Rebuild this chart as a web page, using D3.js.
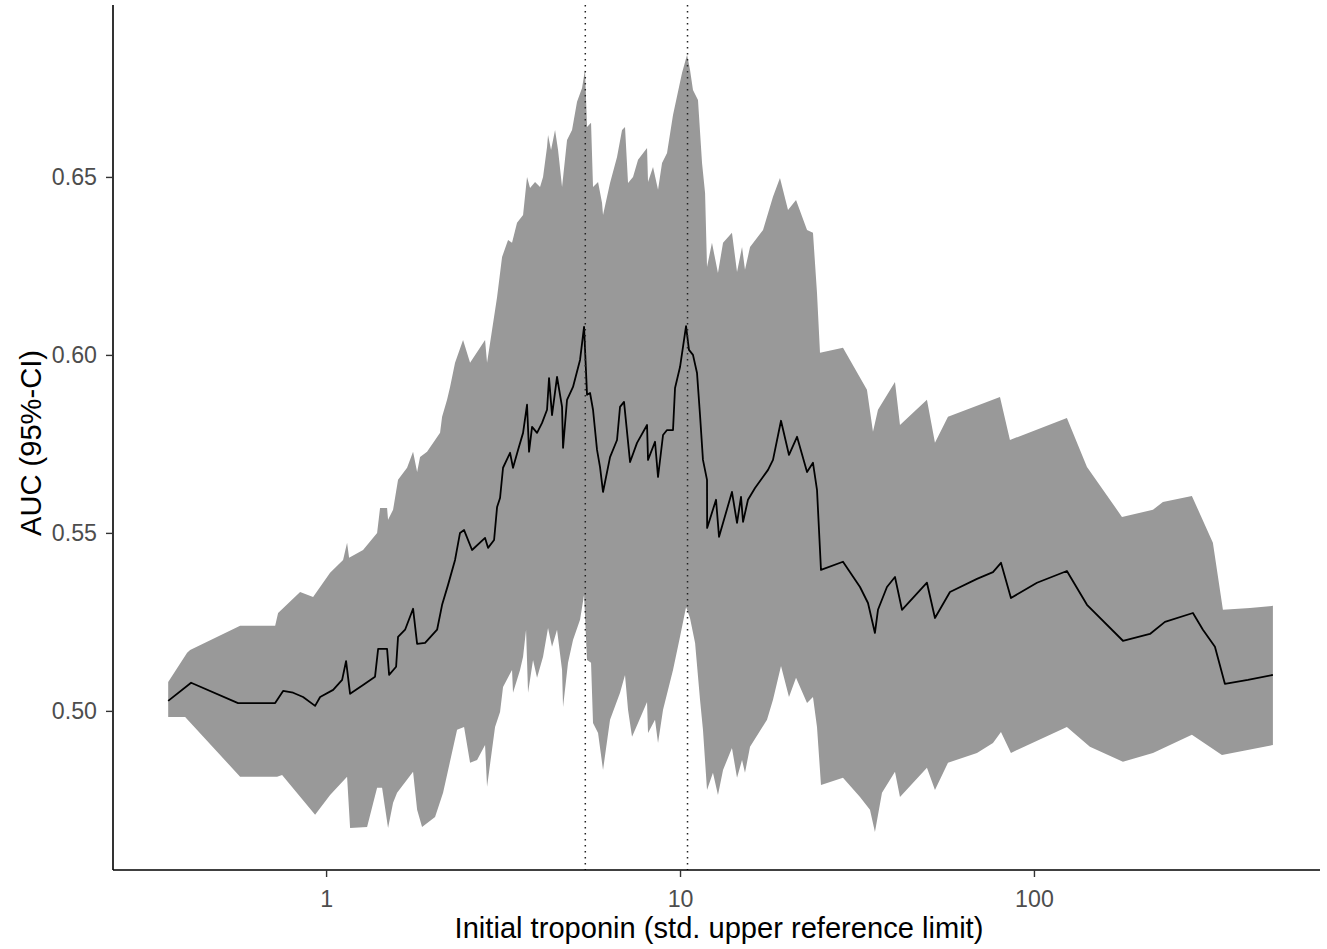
<!DOCTYPE html>
<html>
<head>
<meta charset="utf-8">
<script src="https://cdn.jsdelivr.net/npm/d3@7"></script>
<style>
  html, body { margin: 0; padding: 0; background: #fff; }
  svg { display: block; }
  text { font-family: "Liberation Sans", Arial, Helvetica, sans-serif; }
</style>
</head>
<body>
<svg id="chart" width="1327" height="949"></svg>
<script>
// ---- data (troponin in multiples of the upper reference limit, AUC) ----
const aucLine = [
  [0.358,0.5028],[0.4155,0.5079],[0.564,0.5022],[0.718,0.5022],[0.756,0.5056],[0.807,0.5051],[0.861,0.5039],[0.931,0.5014],[0.962,0.5039],[1.047,0.5059],
  [1.110,0.5087],[1.139,0.5140],[1.169,0.5048],[1.272,0.5073],[1.375,0.5096],[1.403,0.5174],[1.487,0.5174],[1.507,0.5101],[1.577,0.5124],[1.597,0.5208],
  [1.672,0.5228],[1.761,0.5287],[1.808,0.5188],[1.904,0.5191],[2.059,0.5228],[2.127,0.5298],[2.211,0.5354],[2.314,0.5424],[2.390,0.5500],[2.454,0.5508],
  [2.585,0.5452],[2.813,0.5486],[2.868,0.5458],[2.983,0.5480],[3.042,0.5573],[3.101,0.5598],[3.162,0.5683],[3.310,0.5725],[3.374,0.5683],[3.486,0.5733],
  [3.602,0.5781],[3.696,0.5860],[3.745,0.5728],[3.819,0.5798],[3.945,0.5781],[4.076,0.5809],[4.210,0.5846],[4.265,0.5935],[4.349,0.5831],[4.493,0.5938],
  [4.642,0.5854],[4.672,0.5739],[4.795,0.5874],[4.985,0.5910],[5.218,0.5986],[5.356,0.6079],[5.461,0.5888],[5.569,0.5893],[5.678,0.5846],[5.828,0.5733],
  [5.943,0.5685],[6.060,0.5615],[6.343,0.5713],[6.638,0.5761],[6.769,0.5854],[6.947,0.5868],[7.225,0.5699],[7.560,0.5753],[8.069,0.5803],[8.121,0.5705],
  [8.499,0.5756],[8.667,0.5657],[8.954,0.5775],[9.190,0.5789],[9.554,0.5789],[9.681,0.5907],[10.00,0.5966],[10.40,0.6081],[10.60,0.6014],[10.88,0.6000],
  [11.17,0.5949],[11.39,0.5831],[11.61,0.5705],[11.92,0.5649],[11.93,0.5514],[12.64,0.5593],[12.89,0.5489],[14.02,0.5615],[14.49,0.5528],[14.87,0.5601],
  [15.07,0.5531],[15.56,0.5593],[16.29,0.5626],[17.73,0.5677],[18.31,0.5705],[19.29,0.5815],[20.32,0.5719],[21.41,0.5770],[22.85,0.5671],[23.75,0.5697],
  [24.38,0.5621],[25.02,0.5396],[28.87,0.5419],[32.25,0.5348],[33.97,0.5303],[35.54,0.5219],[36.25,0.5284],[38.43,0.5348],[40.49,0.5376],[42.38,0.5284],
  [49.85,0.5360],[52.52,0.5261],[57.90,0.5334],[69.03,0.5371],[76.60,0.5390],[80.69,0.5416],[86.10,0.5317],[102.0,0.5360],[123.9,0.5393],[141.2,0.5298],
  [178.4,0.5197],[212.7,0.5216],[234.5,0.5250],[281.3,0.5275],[300.2,0.5228],[324.6,0.5180],[346.3,0.5076],[402.3,0.5087],[473.3,0.5101]
];

const ciUpper = [
  [0.358,0.5081],[0.4049,0.5163],[0.4129,0.5171],[0.5716,0.5239],[0.718,0.5239],[0.7318,0.5275],[0.8445,0.5334],[0.9190,0.5320],[1.0264,0.5388],[1.1169,0.5424],
  [1.1464,0.5472],[1.1614,0.5430],[1.272,0.5452],[1.3935,0.5500],[1.4207,0.5570],[1.487,0.5570],[1.4965,0.5537],[1.5463,0.5565],[1.597,0.5649],[1.6936,0.5683],
  [1.761,0.5728],[1.808,0.5671],[1.8429,0.5713],[1.9287,0.5728],[2.0991,0.5781],[2.127,0.5826],[2.1968,0.5874],[2.2403,0.5910],[2.314,0.5978],[2.4378,0.6042],
  [2.5516,0.5978],[2.813,0.6042],[2.8497,0.5978],[2.9438,0.6070],[3.042,0.6163],[3.142,0.6275],[3.2667,0.6323],[3.3527,0.6315],[3.4633,0.6371],[3.602,0.6393],
  [3.696,0.6500],[3.7695,0.6469],[3.8939,0.6486],[4.0225,0.6472],[4.1021,0.6500],[4.210,0.6584],[4.2375,0.6618],[4.3212,0.6576],[4.4351,0.6632],[4.5226,0.6576],
  [4.642,0.6472],[4.795,0.6604],[4.9533,0.6632],[5.1171,0.6711],[5.2871,0.6750],[5.3903,0.6801],[5.461,0.6640],[5.6054,0.6652],[5.678,0.6472],[5.8669,0.6486],
  [6.0215,0.6427],[6.060,0.6393],[6.343,0.6483],[6.638,0.6556],[6.8579,0.6632],[6.9917,0.6640],[7.1305,0.6483],[7.3655,0.6500],[7.6105,0.6548],[8.069,0.6581],
  [8.121,0.6486],[8.3889,0.6528],[8.667,0.6464],[8.8965,0.6539],[9.190,0.6567],[9.554,0.6674],[10.13,0.6792],[10.47,0.6843],[10.67,0.6801],[10.88,0.6744],
  [11.24,0.6716],[11.54,0.6539],[11.77,0.6455],[11.92,0.6247],[12.31,0.6315],[12.80,0.6230],[13.23,0.6315],[14.02,0.6343],[14.49,0.6233],[14.97,0.6303],
  [15.26,0.6239],[15.77,0.6303],[17.16,0.6351],[18.31,0.6444],[19.16,0.6497],[20.19,0.6407],[21.27,0.6435],[22.85,0.6351],[23.75,0.6343],[24.38,0.6174],
  [24.86,0.6006],[28.87,0.6020],[33.74,0.5902],[35.09,0.5784],[36.25,0.5846],[40.49,0.5924],[41.83,0.5803],[49.85,0.5874],[52.52,0.5753],[57.16,0.5826],
  [80.17,0.5882],[85.54,0.5761],[123.9,0.5823],[141.2,0.5685],[177.3,0.5545],[216.9,0.5565],[231.4,0.5587],[279.4,0.5604],[320.3,0.5472],[341.9,0.5284],
  [407.6,0.5289],[473.3,0.5295]
];

const ciLower = [
  [0.358,0.4983],[0.3997,0.4983],[0.5716,0.4815],[0.7271,0.4815],[0.7511,0.4820],[0.931,0.4708],[1.0264,0.4764],[1.1464,0.4815],[1.169,0.4671],[1.3056,0.4674],
  [1.3935,0.4784],[1.4395,0.4784],[1.4965,0.4671],[1.5463,0.4742],[1.5871,0.4770],[1.761,0.4829],[1.808,0.4722],[1.8672,0.4674],[2.0318,0.4702],[2.1406,0.4770],
  [2.3448,0.4947],[2.454,0.4955],[2.5516,0.4854],[2.6706,0.4862],[2.813,0.4904],[2.8497,0.4787],[3.0019,0.4955],[3.101,0.4997],[3.162,0.5067],[3.3527,0.5115],
  [3.374,0.5051],[3.5318,0.5115],[3.602,0.5152],[3.6727,0.5228],[3.7205,0.5051],[3.8433,0.5143],[3.945,0.5093],[4.1021,0.5152],[4.2375,0.5233],[4.349,0.5180],
  [4.493,0.5228],[4.642,0.5115],[4.672,0.5011],[4.8259,0.5135],[4.985,0.5199],[5.218,0.5256],[5.356,0.5326],[5.461,0.5143],[5.6054,0.5135],[5.678,0.4966],
  [5.8669,0.4938],[6.060,0.4834],[6.343,0.4975],[6.769,0.5051],[6.9917,0.5101],[7.1305,0.5003],[7.3181,0.4927],[7.6105,0.4966],[8.069,0.5025],[8.121,0.4938],
  [8.499,0.4975],[8.667,0.4910],[8.954,0.5003],[9.554,0.5115],[10.00,0.5208],[10.40,0.5292],[10.67,0.5261],[11.03,0.5191],[11.39,0.5031],[11.61,0.4947],
  [11.92,0.4778],[12.39,0.4826],[12.80,0.4764],[13.23,0.4834],[14.02,0.4896],[14.49,0.4812],[14.97,0.4862],[15.26,0.4826],[15.77,0.4899],[17.61,0.4975],
  [18.31,0.5031],[19.29,0.5126],[20.32,0.5039],[21.27,0.5093],[22.85,0.5022],[23.75,0.5039],[24.38,0.4955],[25.02,0.4792],[28.87,0.4812],[32.25,0.4758],
  [34.41,0.4722],[35.54,0.4660],[37.21,0.4770],[40.49,0.4829],[41.83,0.4758],[49.85,0.4840],[52.52,0.4778],[57.16,0.4854],[69.03,0.4882],[76.60,0.4910],
  [80.69,0.4941],[86.10,0.4882],[123.9,0.4955],[143.9,0.4899],[178.4,0.4857],[216.9,0.4882],[279.4,0.4933],[339.7,0.4876],[473.3,0.4904]
];

const cutoffs = [5.4, 10.5];
const xTicks = [1, 10, 100];
const yTicks = [0.50, 0.55, 0.60, 0.65];
const xDomain = [0.25, 643];
const yDomain = [0.4553, 0.6983];
const xTitle = "Initial troponin (std. upper reference limit)";
const yTitle = "AUC (95%-CI)";

// ---- layout ----
const W = 1327, H = 949;
const margin = { top: 5, right: 7, bottom: 79, left: 113 };
const innerW = W - margin.left - margin.right;
const innerH = H - margin.top - margin.bottom;

const svg = d3.select("#chart");
const g = svg.append("g").attr("transform", `translate(${margin.left},${margin.top})`);

const x = d3.scaleLog().domain(xDomain).range([0, innerW]);
const y = d3.scaleLinear().domain(yDomain).range([innerH, 0]);

// ribbon
const edge = d3.line().x(d => x(d[0])).y(d => y(d[1]));
const ribbonPts = ciUpper.concat(ciLower.slice().reverse());
g.append("path")
  .attr("d", edge(ribbonPts) + "Z")
  .attr("fill", "#999999")
  .attr("stroke", "none");

// AUC line
g.append("path")
  .attr("d", edge(aucLine))
  .attr("fill", "none")
  .attr("stroke", "#000")
  .attr("stroke-width", 1.8)
  .attr("stroke-linejoin", "round");

// dotted cut-off lines
g.selectAll("line.cut").data(cutoffs).enter().append("line")
  .attr("class", "cut")
  .attr("x1", d => x(d)).attr("x2", d => x(d))
  .attr("y1", 0).attr("y2", innerH)
  .attr("stroke", "#222")
  .attr("stroke-width", 1.5)
  .attr("stroke-dasharray", "1.6,4.4");

// axes
const xAxis = d3.axisBottom(x).tickValues(xTicks).tickFormat(d3.format("d")).tickSize(7).tickPadding(14);
const yAxis = d3.axisLeft(y).tickValues(yTicks).tickFormat(d3.format(".2f")).tickSize(7).tickPadding(9);

const gx = g.append("g").attr("transform", `translate(0,${innerH})`).call(xAxis);
const gy = g.append("g").call(yAxis);

[gx, gy].forEach(ax => {
  ax.select(".domain").attr("stroke", "#000").attr("stroke-width", 1.6);
  ax.selectAll(".tick line").attr("stroke", "#333").attr("stroke-width", 1.4);
  ax.selectAll(".tick text")
    .attr("fill", "#4d4d4d")
    .style("font-size", "23.2px")
    .style("font-family", "'Liberation Sans', Arial, sans-serif");
});
gx.select(".domain").attr("d", `M0,0H${innerW}`);
gy.select(".domain").attr("d", `M0,${innerH}V0`);

// titles
svg.append("text")
  .attr("x", 719)
  .attr("y", 938)
  .attr("text-anchor", "middle")
  .style("font-size", "29.1px")
  .attr("fill", "#000")
  .text(xTitle);

svg.append("text")
  .attr("transform", `translate(41,${443}) rotate(-90)`)
  .attr("text-anchor", "middle")
  .style("font-size", "29.1px")
  .attr("fill", "#000")
  .text(yTitle);
</script>
</body>
</html>
